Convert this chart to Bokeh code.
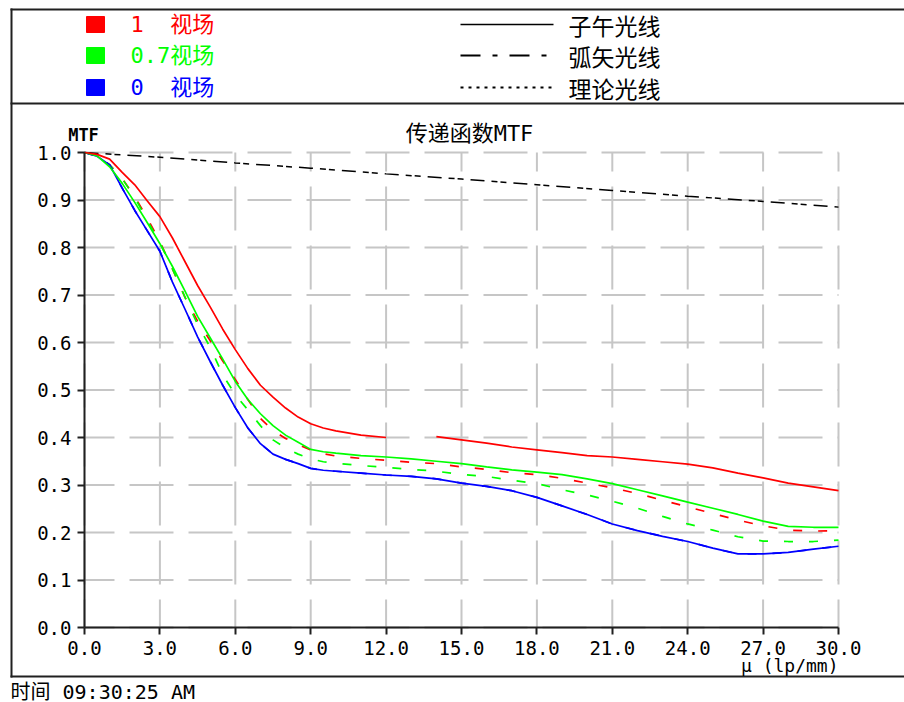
from bokeh.plotting import figure
from bokeh.models import Range1d, FixedTicker, PrintfTickFormatter, Label, PolyAnnotation
from bokeh.embed import file_html
from bokeh.resources import INLINE

NaN = float("nan")

# ---------------- data ----------------
freq = [0, 0.5, 1, 1.5, 2, 2.5, 3, 3.5, 4, 4.5, 5, 5.5, 6, 6.5, 7, 7.5, 8, 8.5, 9, 9.5, 10,
        11, 12, 13, 14, 15, 16, 17, 18, 19, 20, 21, 22, 23, 24, 25, 26, 27, 28, 29, 30]

red_t = [1.000, 0.996, 0.986, 0.958, 0.932, 0.898, 0.865, 0.820, 0.770, 0.720, 0.675,
         0.628, 0.585, 0.545, 0.510, 0.485, 0.462, 0.443, 0.429, 0.420, 0.414,
         0.405, 0.400, NaN, 0.402, 0.395, 0.388, 0.380, 0.374, 0.368, 0.362,
         0.359, 0.354, 0.349, 0.344, 0.336, 0.325, 0.315, 0.304, 0.296, 0.288]
red_s = [1.000, 0.994, 0.974, 0.945, 0.907, 0.862, 0.812, 0.755, 0.695, 0.645, 0.604,
         0.561, 0.522, 0.480, 0.440, 0.415, 0.398, 0.385, 0.374, 0.366, 0.361,
         0.356, 0.352, 0.348, 0.345, 0.338, 0.333, 0.326, 0.322, 0.314, 0.304,
         0.294, 0.282, 0.268, 0.254, 0.240, 0.226, 0.214, 0.205, 0.203, 0.204]

green_t = [1.000, 0.993, 0.970, 0.935, 0.895, 0.852, 0.808, 0.760, 0.708, 0.655, 0.610,
           0.565, 0.518, 0.480, 0.450, 0.425, 0.405, 0.390, 0.375, 0.370, 0.367,
           0.362, 0.359, 0.355, 0.350, 0.345, 0.338, 0.332, 0.327, 0.322, 0.313,
           0.303, 0.290, 0.277, 0.264, 0.251, 0.238, 0.224, 0.213, 0.211, 0.211]
green_s = [1.000, 0.994, 0.974, 0.945, 0.905, 0.857, 0.810, 0.755, 0.695, 0.638, 0.590,
           0.532, 0.490, 0.458, 0.425, 0.395, 0.378, 0.365, 0.355, 0.349, 0.346,
           0.341, 0.337, 0.333, 0.329, 0.322, 0.318, 0.310, 0.303, 0.290, 0.279,
           0.266, 0.251, 0.234, 0.218, 0.205, 0.191, 0.182, 0.181, 0.181, 0.184]

blue_t = [1.000, 0.992, 0.974, 0.925, 0.878, 0.835, 0.792, 0.727, 0.670, 0.612, 0.560,
          0.510, 0.463, 0.420, 0.387, 0.365, 0.354, 0.345, 0.335, 0.331, 0.329,
          0.325, 0.321, 0.318, 0.313, 0.304, 0.297, 0.288, 0.274, 0.256, 0.238,
          0.218, 0.204, 0.192, 0.181, 0.167, 0.155, 0.155, 0.158, 0.165, 0.171]
blue_s = list(blue_t)

freq_theory = [0, 3, 6, 9, 12, 15, 18, 21, 24, 27, 30]
theory = [1.000, 0.990, 0.978, 0.967, 0.955, 0.944, 0.932, 0.920, 0.908, 0.897, 0.885]

x_ticks = [0, 3, 6, 9, 12, 15, 18, 21, 24, 27, 30]
y_ticks = [0.0, 0.1, 0.2, 0.3, 0.4, 0.5, 0.6, 0.7, 0.8, 0.9, 1.0]

NB = "\u00a0"
field_labels = ["1" + NB + NB + "视场", "0.7视场", "0" + NB + NB + "视场"]
field_colors = ["#ff0000", "#00ff00", "#0000ff"]
style_labels = ["子午光线", "弧矢光线", "理论光线"]
style_dashes = ["solid", "20 12 5 12", "3 5"]

MONO = "DejaVu Sans Mono, Noto Sans CJK SC"
CJK = "Noto Sans CJK SC"

# ---------------- layout geometry (pixels of the 904x702 page) ----------------
W, H = 904, 702
PX_X0, PX_X1 = 84.0, 838.0      # x = 0 and x = 30
PX_Y0, PX_Y1 = 627.0, 152.0     # y = 0 and y = 1
KX = (PX_X1 - PX_X0) / 30.0
KY = (PX_Y0 - PX_Y1) / 1.0

def dx(X):
    return (X - PX_X0) / KX

def dy(Y):
    return (PX_Y0 - Y) / KY

p = figure(width=W, height=H,
           x_range=Range1d(dx(0), dx(W)), y_range=Range1d(dy(H), dy(0)),
           output_backend="svg", toolbar_location=None,
           min_border=0, min_border_left=0, min_border_right=0,
           min_border_top=0, min_border_bottom=0)
p.title.visible = False
p.outline_line_color = None
p.background_fill_color = "white"
p.border_fill_color = "white"
p.xgrid.visible = False
p.ygrid.visible = False

# axes drawn at the data origin, limited to the data span
p.xaxis.fixed_location = 0
p.yaxis.fixed_location = 0
p.xaxis.bounds = (0, 30)
p.yaxis.bounds = (0, 1)
for ax in (p.xaxis[0], p.yaxis[0]):
    ax.axis_line_width = 2
    ax.axis_line_color = "#202020"
    ax.major_tick_line_width = 2
    ax.major_tick_line_color = "#202020"
    ax.major_tick_in = 0
    ax.major_tick_out = 7
    ax.minor_tick_line_color = None
    ax.major_label_text_font = "DejaVu Sans Mono"
    ax.major_label_text_font_size = "19px"
    ax.major_label_text_color = "#000000"
    ax.major_label_standoff = 6
p.xaxis.ticker = FixedTicker(ticks=x_ticks)
p.yaxis.ticker = FixedTicker(ticks=y_ticks)
p.xaxis.formatter = PrintfTickFormatter(format="%.1f")
p.yaxis.formatter = PrintfTickFormatter(format="%.1f")

# dashed grid inside the data area
p.segment(x0=x_ticks, y0=[0] * len(x_ticks), x1=x_ticks, y1=[1] * len(x_ticks),
          line_color="#c6c6c6", line_width=2, line_dash="44 15", line_dash_offset=16)
p.segment(x0=[0] * len(y_ticks), y0=y_ticks, x1=[30] * len(y_ticks), y1=y_ticks,
          line_color="#c6c6c6", line_width=2, line_dash="44 15", line_dash_offset=14)

# curves
p.line(freq_theory, theory, line_color="black", line_width=1.5, line_dash="14 7 6 3 6 7")
for ys, c in ((red_s, field_colors[0]), (green_s, field_colors[1]), (blue_s, field_colors[2])):
    p.line(freq, ys, line_color=c, line_width=1.7, line_dash="9 16")
for ys, c in ((blue_t, field_colors[2]), (green_t, field_colors[1]), (red_t, field_colors[0])):
    p.line(freq, ys, line_color=c, line_width=1.7)

# ---------------- decorations ----------------
def hline(X0, X1, Y, color="#202020", width=2, dash="solid"):
    p.add_layout(PolyAnnotation(xs=[dx(X0), dx(X1)], ys=[dy(Y), dy(Y)],
                                line_color=color, line_width=width, line_dash=dash,
                                line_alpha=1, fill_color=None, fill_alpha=0))

def vline(X, Y0, Y1, color="#202020", width=2):
    p.add_layout(PolyAnnotation(xs=[dx(X), dx(X)], ys=[dy(Y0), dy(Y1)],
                                line_color=color, line_width=width,
                                line_alpha=1, fill_color=None, fill_alpha=0))

# outer frame (open on the right) and legend divider
hline(10, W, 9)
hline(10, W, 103)
hline(10, W, 676)
vline(11, 8, 677)

rows = [24, 55, 87]
for Yr, lab, col in zip(rows, field_labels, field_colors):
    p.add_layout(PolyAnnotation(xs=[dx(86), dx(104), dx(104), dx(86)],
                                ys=[dy(Yr - 8), dy(Yr - 8), dy(Yr + 8), dy(Yr + 8)],
                                line_color=col, line_width=1, line_alpha=1,
                                fill_color=col, fill_alpha=1))
    p.add_layout(Label(x=dx(130), y=dy(Yr), text=lab, text_color=col,
                       text_font=MONO, text_font_size="22px",
                       text_align="left", text_baseline="middle"))

for Yr, lab, dash in zip(rows, style_labels, style_dashes):
    hline(460, 553, Yr, color="black", width=1.5 if dash == "solid" else 2, dash=dash)
    p.add_layout(Label(x=dx(568), y=dy(Yr), text=lab, text_color="black",
                       text_font=CJK, text_font_size="23px",
                       text_align="left", text_baseline="middle"))

# captions
p.add_layout(Label(x=dx(83), y=dy(134), text="MTF", text_color="black",
                   text_font="DejaVu Sans Mono", text_font_size="17px", text_font_style="bold",
                   text_align="center", text_baseline="middle"))
p.add_layout(Label(x=dx(469), y=dy(133), text="传递函数MTF", text_color="black",
                   text_font=MONO, text_font_size="22px",
                   text_align="center", text_baseline="middle"))
p.add_layout(Label(x=dx(838), y=dy(665), text="μ (lp/mm)", text_color="black",
                   text_font="DejaVu Sans Mono", text_font_size="18px",
                   text_align="right", text_baseline="middle"))
p.add_layout(Label(x=dx(10), y=dy(691), text="时间 09:30:25 AM", text_color="black",
                   text_font=MONO, text_font_size="20px",
                   text_align="left", text_baseline="middle"))

open("out.html", "w").write(file_html(p, INLINE))
